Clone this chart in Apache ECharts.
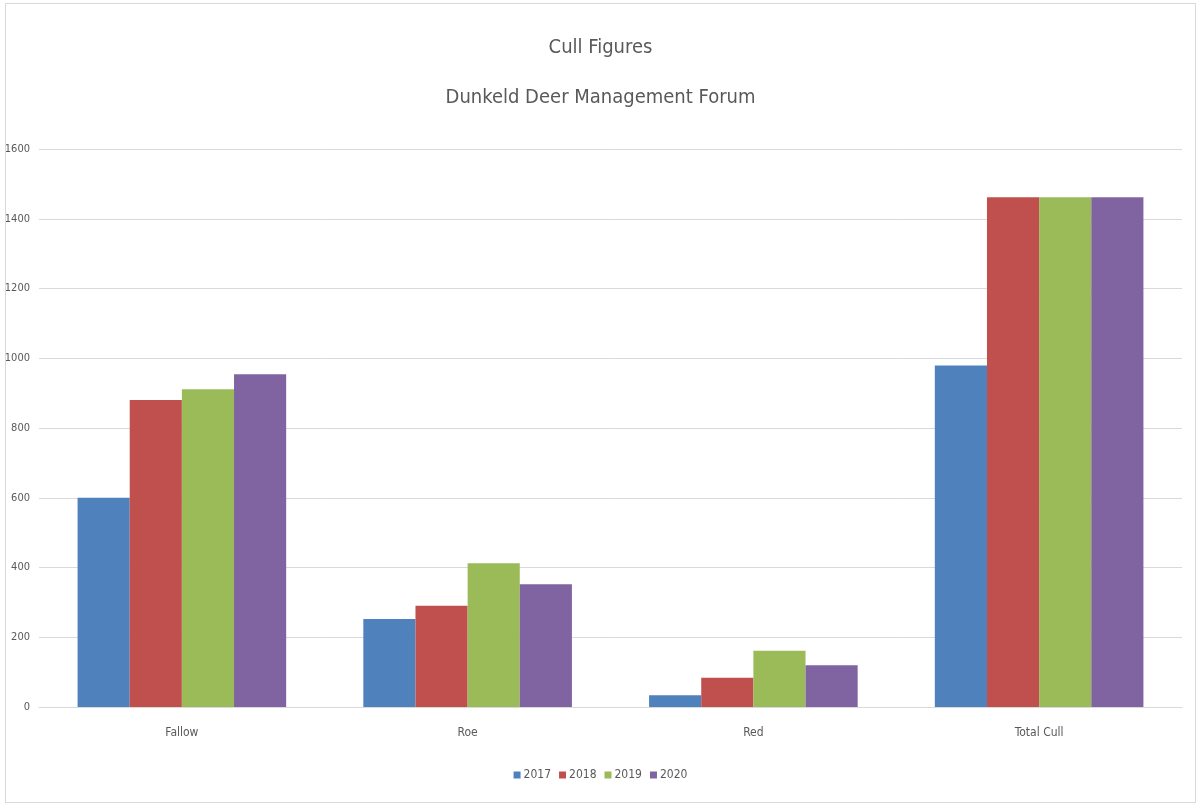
<!DOCTYPE html>
<html><head><meta charset="utf-8">
<script src="https://cdn.jsdelivr.net/npm/echarts@6/dist/echarts.min.js"></script>
<style>html,body{margin:0;padding:0;background:#fff;}#c{width:1201px;height:807px;}
#frame{position:absolute;left:5px;top:3px;width:1191px;height:800px;border:1px solid #d9d9d9;box-sizing:border-box;pointer-events:none;}</style>
</head><body><div id="c"></div><div id="frame"></div>
<script>
const categories = ['Fallow', 'Roe', 'Red', 'Total Cull'];
const years = ['2017', '2018', '2019', '2020'];
const v2017 = [600, 252, 34, 979];
const v2018 = [880, 290, 84, 1462];
const v2019 = [911, 412, 161, 1462];
const v2020 = [954, 352, 120, 1462];
const colors = ['#4f81bd', '#c0504d', '#9bbb59', '#8064a2'];
const font = '"Liberation Sans Narrow", "DejaVu Sans Condensed", "Liberation Sans", Arial, sans-serif';
const chart = echarts.init(document.getElementById('c'));
chart.setOption({
  animation: false,
  title: {
    text: 'Cull Figures\nDunkeld Deer Management Forum',
    left: 'center', top: 18,
    textStyle: { fontFamily: font, fontSize: 20, fontWeight: 'normal', color: '#595959', lineHeight: 50 }
  },
  legend: {
    bottom: 21, left: 'center', itemWidth: 7, itemHeight: 7, itemGap: 8,
    icon: 'rect',
    textStyle: { fontFamily: font, fontSize: 12, color: '#595959', padding: [0, 0, 0, -2] },
    data: years
  },
  grid: { left: 39, right: 19, top: 149, bottom: 100 },
  xAxis: {
    type: 'category', data: categories,
    axisLine: { lineStyle: { color: '#d9d9d9', width: 1 } },
    axisTick: { show: false },
    axisLabel: { fontFamily: font, fontSize: 12, color: '#595959', margin: 20 }
  },
  yAxis: {
    type: 'value', min: 0, max: 1600, interval: 200,
    axisLine: { show: false }, axisTick: { show: false },
    splitLine: { lineStyle: { color: '#d9d9d9', width: 1 } },
    axisLabel: { fontFamily: font, fontSize: 11, color: '#595959', margin: 9, formatter: v => String(v) }
  },
  series: [v2017, v2018, v2019, v2020].map((d, i) => ({
    name: years[i], type: 'bar', data: d,
    barGap: '0%', barCategoryGap: '27%',
    itemStyle: { color: colors[i] }
  }))
});
</script></body></html>
